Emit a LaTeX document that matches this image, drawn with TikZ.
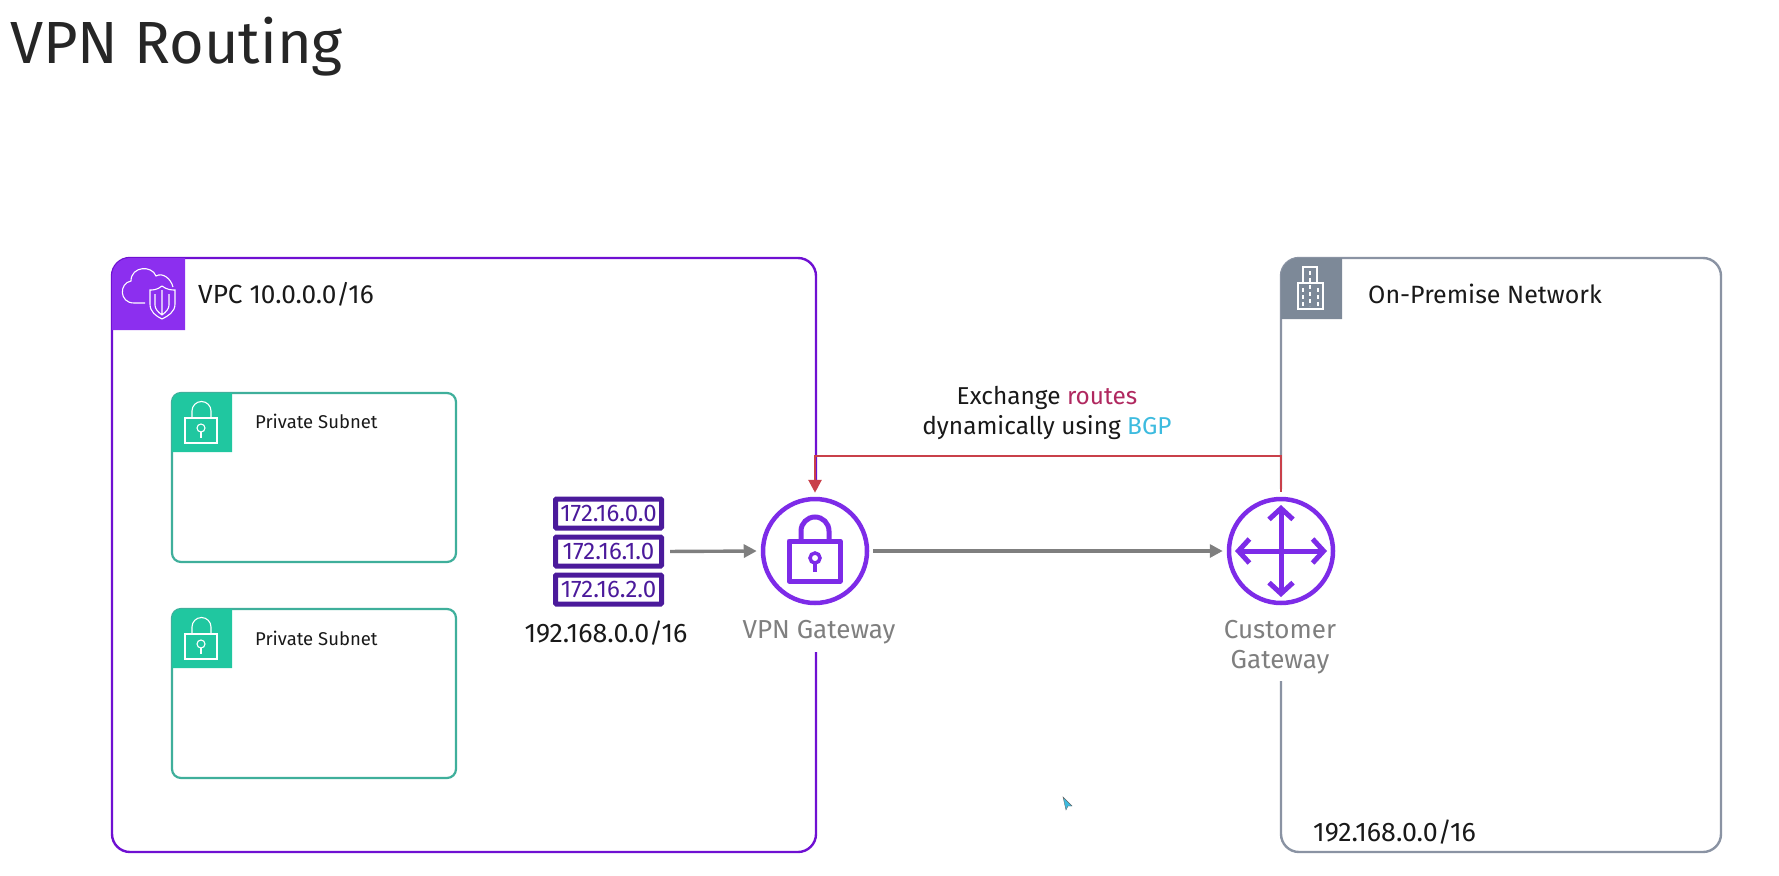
\documentclass[tikz,border=0pt]{standalone}
\usepackage{fontspec}
\setmainfont{Fira Sans}[Scale=1.0]
\usetikzlibrary{positioning,arrows.meta}
\definecolor{vpcline}{HTML}{6F10D2}
\definecolor{vpctag}{HTML}{8C2FEF}
\definecolor{subnetline}{HTML}{3FAF9B}
\definecolor{subnettag}{HTML}{20C7A0}
\definecolor{premline}{HTML}{8A93A3}
\definecolor{premtag}{HTML}{7D8998}
\definecolor{gwpurple}{HTML}{7D2BE8}
\definecolor{chipline}{HTML}{4B1A9B}
\definecolor{routered}{HTML}{C9404A}
\definecolor{routeword}{HTML}{B0285F}
\definecolor{bgpword}{HTML}{3DBBDF}
\definecolor{arrowgray}{HTML}{7F7F7F}
\newcommand{\fs}[1]{\fontsize{#1}{#1}\selectfont}

\begin{document}
\begin{tikzpicture}[
    x=1pt, y=-1pt,
    vpcbox/.style={
        draw=vpcline,
        line width=2.4pt,
        rounded corners=18pt,
        minimum width=704pt,
        minimum height=594pt
    },
    prembox/.style={vpcbox, draw=premline, minimum width=440pt},
    subnetbox/.style={
        draw=subnetline,
        line width=2.2pt,
        rounded corners=9pt,
        minimum width=284pt,
        minimum height=169pt
    },
    txt/.style={inner sep=0pt, font=\fs{25}, text=black!90},
    cidrtxt/.style={txt, font=\fs{26.8}},
    subnettxt/.style={txt, font=\fs{18.5}},
    gwtxt/.style={txt, font=\fs{26}, text=arrowgray, align=center, fill=white, inner sep=2pt},
    chip/.style={
        draw=chipline,
        line width=5pt,
        rounded corners=1pt,
        minimum width=106pt,
        minimum height=29pt,
        inner sep=0pt,
        font=\fs{24},
        text=chipline
    },
    gw/.style={circle, draw=gwpurple, line width=4.5pt, fill=white, minimum size=104pt, inner sep=0pt},
    flow/.style={draw=arrowgray, line width=3.4pt, -{Triangle[length=13pt,width=13pt]}},
    route/.style={draw=routered, line width=2.8pt},
    iconline/.style={draw=white, line width=1.1pt},
    gwline/.style={draw=gwpurple, line width=5pt},
    subnetlock/.pic={
        \draw[iconline] (185,25) rectangle (217,50);
        \draw[iconline] (192,25) -- (192,18) arc[start angle=180, end angle=360, radius=9.5] -- (211,25);
        \draw[iconline] (201,35) circle[radius=4];
        \draw[iconline] (201,39) -- (201,45);
    }
]
\useasboundingbox (0,0) rectangle (1779,875);

\node[txt, font=\fs{59.5}, text=black!85, anchor=west] (title) at (10,47) {VPN Routing};

% containers
\node[vpcbox] (vpc) at (464,555) {};
\node[prembox] (prem) at (1501,555) {};
\fill[vpctag] (112,330) [rounded corners=18pt] -- (112,258) [sharp corners] -- (185,258) -- (185,330) -- cycle;
\fill[premtag] (1281,319) [rounded corners=18pt] -- (1281,258) [sharp corners] -- (1342,258) -- (1342,319) -- cycle;
\node[txt, font=\fs{26.2}, anchor=west] (vpclabel) at (198,294) {VPC 10.0.0.0/16};
\node[txt, anchor=west] (premlabel) at (1368,294) {On-Premise Network};
\node[cidrtxt, anchor=west] (premcidr) at (1313,832) {192.168.0.0/16};

% vpc icon
\draw[iconline] (145,303) -- (134,303) .. controls (119,303) and (119,283) .. (131,281)
    .. controls (131,266) and (152,265) .. (156,276) .. controls (163,272) and (171,279) .. (173,287);
\draw[iconline, fill=vpctag] (162,286) .. controls (167,290) and (172,290) .. (175,290)
    -- (175,304) .. controls (175,312) and (168,316) .. (162,319)
    .. controls (156,316) and (150,312) .. (150,304) -- (150,290) .. controls (153,290) and (157,290) .. (162,286);
\draw[iconline] (162,290) -- (162,315) (155,294) -- (155,305) .. controls (155,309) and (158,312) .. (162,315)
    (169,294) -- (169,305) .. controls (169,309) and (166,312) .. (162,315);

% building icon
\draw[iconline] (1303,283) -- (1303,267) -- (1317,267) -- (1317,283) (1298,283) rectangle (1323,309);
\draw[iconline, dash pattern=on 4pt off 3pt] (1310,271) -- (1310,306) (1303,288) -- (1303,306) (1318,288) -- (1318,306);

% subnets
\node[subnetbox] (subnetA) at (314,477.5) {};
\node[subnetbox] (subnetB) at (314,693.5) {};
\fill[subnettag] (172,452) [rounded corners=9pt] -- (172,393) [sharp corners] -- (232,393) -- (232,452) -- cycle;
\fill[subnettag] (172,668) [rounded corners=9pt] -- (172,609) [sharp corners] -- (232,609) -- (232,668) -- cycle;
\pic at (0,393) {subnetlock};
\pic at (0,609) {subnetlock};
\node[subnettxt, anchor=west] (subnetAlabel) at (255,421) {Private Subnet};
\node[subnettxt, anchor=west] (subnetBlabel) at (255,638) {Private Subnet};

% route chips
\node[chip] (chipA) at (608.5,513.5) {172.16.0.0};
\node[chip, below=4pt of chipA] (chipB) {172.16.1.0};
\node[chip, below=4pt of chipB] (chipC) {172.16.2.0};
\node[cidrtxt] (vpccidr) at (606,633) {192.168.0.0/16};

% gateways
\fill[white] (745,489) rectangle (885,652);
\fill[white] (1215,489) rectangle (1345,681);
\node[gw] (vpngw) at (815,551) {};
\node[gw] (cgw) at (1281,551) {};
\node[gwtxt, below=13pt of vpngw, xshift=4pt] (vpnlabel) {VPN Gateway};
\node[gwtxt, below=13pt of cgw, xshift=-1pt] (cgwlabel) {Customer\\[4pt]Gateway};

\draw[gwline, line join=round] (789,541) rectangle (840,581);
\draw[gwline] (801,541) -- (801,531) arc[start angle=180, end angle=360, radius=14] -- (829,541);
\draw[gwline, line width=3.5pt] (815,558) circle[radius=5];
\draw[gwline, line width=3.5pt] (815,563) -- (815,572);

\draw[gwline, {Straight Barb[length=11pt,width=24pt]}-{Straight Barb[length=11pt,width=24pt]}] (1281,505) -- (1281,597);
\draw[gwline, {Straight Barb[length=11pt,width=24pt]}-{Straight Barb[length=11pt,width=24pt]}] (1235,551) -- (1327,551);

% connectors
\coordinate (routetop) at (1047,456);
\draw[flow, shorten <=6pt, shorten >=4pt] (chipB.east) -- (vpngw.west);
\draw[flow, shorten <=4pt, shorten >=4pt] (vpngw.east) -- (cgw.west);
\draw[route, -{Triangle[length=13pt,width=13pt]}, shorten >=4pt] (cgw.north) ++(0,-5) |- (routetop) -| (vpngw.north);

\node[txt, font=\fs{24.4}, align=center] (routelabel) at (1047,413) {Exchange \textcolor{routeword}{routes}\\[5pt]dynamically using \textcolor{bgpword}{BGP}};

% cursor
\fill[bgpword, draw=black!60, line width=0.4pt] (1063,797) -- (1072,806) -- (1068,806) -- (1066,810) -- cycle;
\end{tikzpicture}
\end{document}
